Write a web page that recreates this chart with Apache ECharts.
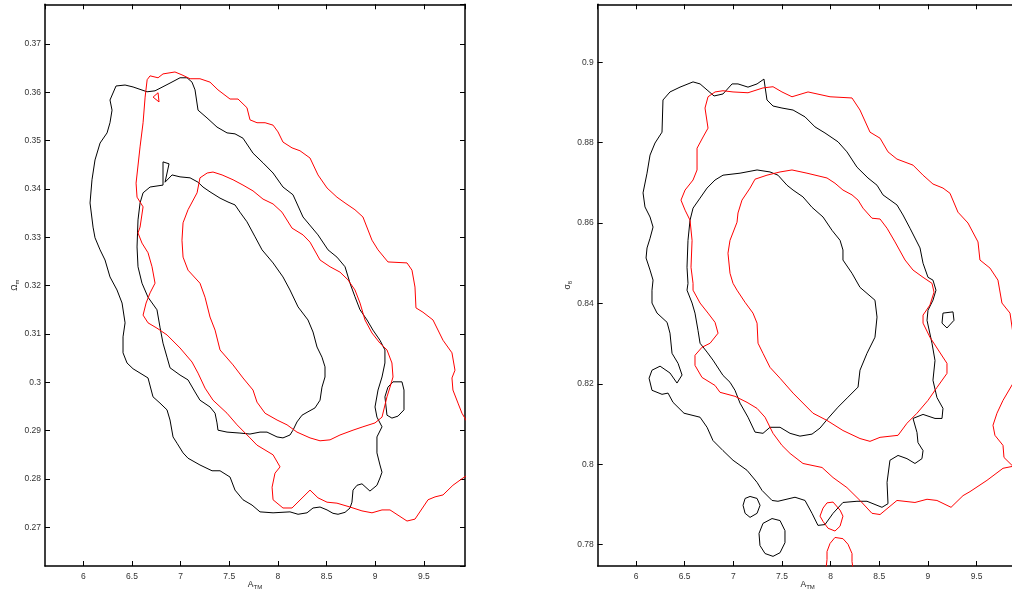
<!DOCTYPE html>
<html><head><meta charset="utf-8">
<script src="https://cdn.jsdelivr.net/npm/echarts@6/dist/echarts.min.js"></script>
<style>html,body{margin:0;padding:0;background:#fff}#c{width:1012px;height:592px}</style>
</head><body><div id="c"></div>
<script>
// Axis ranges
const xRange = [5.606, 9.923];
const omegaRange = [0.262, 0.3782];
const sigmaRange = [0.7747, 0.9144];
const xStep = 0.5, omegaStep = 0.01, sigmaStep = 0.02;

// ---- Left panel (A_TM vs Omega_m) ----
const leftBlackOuter = [[6.274,0.3584],[6.336,0.3613],[6.429,0.3615],[6.511,0.3611],[6.655,0.3601],[6.737,0.3603],[6.891,0.3619],[6.994,0.3630],[7.066,0.3630],[7.117,0.3621],[7.148,0.3605],[7.179,0.3563],[7.271,0.3547],[7.374,0.3528],[7.477,0.3516],[7.559,0.3514],[7.641,0.3505],[7.744,0.3474],[7.847,0.3454],[7.950,0.3433],[8.052,0.3404],[8.155,0.3388],[8.258,0.3342],[8.412,0.3305],[8.515,0.3274],[8.607,0.3259],[8.690,0.3239],[8.741,0.3205],[8.792,0.3177],[8.844,0.3150],[8.916,0.3129],[8.977,0.3108],[9.049,0.3087],[9.100,0.3067],[9.100,0.3040],[9.070,0.3011],[9.029,0.2984],[8.998,0.2949],[9.018,0.2928],[9.070,0.2908],[9.018,0.2887],[9.018,0.2854],[9.049,0.2829],[9.070,0.2814],[9.049,0.2802],[9.018,0.2787],[8.946,0.2775],[8.864,0.2790],[8.813,0.2787],[8.772,0.2777],[8.761,0.2752],[8.741,0.2740],[8.690,0.2731],[8.618,0.2727],[8.566,0.2729],[8.505,0.2736],[8.433,0.2742],[8.361,0.2740],[8.299,0.2730],[8.207,0.2727],[8.124,0.2732],[7.950,0.2730],[7.816,0.2732],[7.734,0.2746],[7.641,0.2757],[7.559,0.2777],[7.508,0.2804],[7.405,0.2817],[7.323,0.2817],[7.199,0.2829],[7.076,0.2843],[7.025,0.2854],[6.963,0.2874],[6.922,0.2887],[6.891,0.2922],[6.860,0.2943],[6.788,0.2957],[6.716,0.2970],[6.665,0.3009],[6.511,0.3028],[6.449,0.3040],[6.408,0.3061],[6.408,0.3094],[6.429,0.3123],[6.398,0.3164],[6.346,0.3191],[6.274,0.3218],[6.223,0.3253],[6.172,0.3274],[6.120,0.3299],[6.100,0.3321],[6.069,0.3371],[6.089,0.3419],[6.120,0.3460],[6.172,0.3495],[6.244,0.3516],[6.274,0.3537],[6.295,0.3563],[6.274,0.3584]];

const leftBlackInner = [[6.912,0.3429],[6.994,0.3425],[7.097,0.3423],[7.179,0.3414],[7.230,0.3404],[7.302,0.3394],[7.405,0.3381],[7.487,0.3373],[7.559,0.3367],[7.610,0.3352],[7.682,0.3332],[7.765,0.3301],[7.837,0.3274],[7.950,0.3247],[8.052,0.3218],[8.124,0.3191],[8.207,0.3156],[8.309,0.3129],[8.361,0.3104],[8.402,0.3073],[8.453,0.3052],[8.484,0.3032],[8.484,0.3011],[8.453,0.2990],[8.433,0.2963],[8.381,0.2947],[8.309,0.2939],[8.248,0.2932],[8.196,0.2918],[8.155,0.2901],[8.124,0.2891],[8.052,0.2885],[7.991,0.2887],[7.888,0.2897],[7.816,0.2897],[7.713,0.2893],[7.610,0.2895],[7.477,0.2897],[7.384,0.2901],[7.374,0.2916],[7.354,0.2936],[7.302,0.2949],[7.199,0.2963],[7.148,0.2980],[7.076,0.3005],[6.994,0.3015],[6.891,0.3030],[6.860,0.3052],[6.819,0.3081],[6.788,0.3114],[6.757,0.3150],[6.665,0.3176],[6.603,0.3205],[6.562,0.3239],[6.552,0.3280],[6.562,0.3336],[6.583,0.3371],[6.614,0.3392],[6.686,0.3404],[6.819,0.3408],[6.819,0.3456],[6.881,0.3452],[6.840,0.3414],[6.912,0.3429]];

const leftRedOuter = [[6.656,0.3626],[6.686,0.3634],[6.768,0.3630],[6.819,0.3638],[6.942,0.3642],[7.014,0.3636],[7.097,0.3628],[7.199,0.3628],[7.302,0.3621],[7.384,0.3605],[7.508,0.3586],[7.590,0.3586],[7.682,0.3568],[7.713,0.3543],[7.785,0.3537],[7.868,0.3537],[7.950,0.3532],[8.001,0.3518],[8.052,0.3497],[8.145,0.3485],[8.227,0.3479],[8.330,0.3464],[8.412,0.3429],[8.505,0.3402],[8.607,0.3383],[8.690,0.3371],[8.792,0.3357],[8.874,0.3342],[8.967,0.3294],[9.029,0.3274],[9.131,0.3249],[9.327,0.3247],[9.378,0.3232],[9.409,0.3197],[9.419,0.3154],[9.491,0.3145],[9.594,0.3129],[9.697,0.3087],[9.789,0.3061],[9.820,0.3025],[9.789,0.3009],[9.799,0.2984],[9.851,0.2957],[9.892,0.2936],[9.933,0.2922],[10.03,0.2881],[10.03,0.2819],[9.902,0.2802],[9.799,0.2787],[9.697,0.2767],[9.615,0.2763],[9.543,0.2757],[9.409,0.2717],[9.327,0.2713],[9.152,0.2736],[9.070,0.2736],[8.967,0.2730],[8.864,0.2734],[8.741,0.2742],[8.607,0.2750],[8.505,0.2752],[8.412,0.2761],[8.330,0.2777],[8.145,0.2740],[8.052,0.2740],[7.950,0.2757],[7.940,0.2783],[7.970,0.2812],[8.022,0.2825],[7.950,0.2850],[7.785,0.2870],[7.713,0.2885],[7.580,0.2912],[7.477,0.2936],[7.333,0.2963],[7.251,0.2988],[7.179,0.3019],[7.117,0.3042],[6.994,0.3071],[6.860,0.3098],[6.757,0.3112],[6.665,0.3123],[6.614,0.3139],[6.645,0.3164],[6.686,0.3185],[6.737,0.3205],[6.706,0.3239],[6.665,0.3268],[6.603,0.3288],[6.562,0.3309],[6.583,0.3321],[6.614,0.3363],[6.552,0.3383],[6.542,0.3412],[6.583,0.3487],[6.614,0.3537],[6.635,0.3590],[6.656,0.3626]];

const leftRedInner = [[7.273,0.3433],[7.333,0.3435],[7.426,0.3429],[7.539,0.3419],[7.641,0.3408],[7.744,0.3396],[7.847,0.3379],[7.950,0.3369],[8.042,0.3352],[8.145,0.3319],[8.258,0.3305],[8.330,0.3290],[8.433,0.3253],[8.536,0.3239],[8.638,0.3228],[8.720,0.3212],[8.792,0.3191],[8.844,0.3164],[8.895,0.3129],[8.967,0.3102],[9.049,0.3081],[9.121,0.3067],[9.172,0.3040],[9.183,0.3011],[9.152,0.2990],[9.121,0.2970],[9.070,0.2928],[8.998,0.2916],[8.874,0.2908],[8.772,0.2901],[8.638,0.2891],[8.536,0.2881],[8.433,0.2879],[8.330,0.2885],[8.196,0.2897],[8.094,0.2912],[7.991,0.2922],[7.868,0.2936],[7.785,0.2959],[7.744,0.2984],[7.641,0.3009],[7.539,0.3036],[7.405,0.3067],[7.354,0.3108],[7.302,0.3135],[7.251,0.3176],[7.199,0.3205],[7.076,0.3232],[7.025,0.3259],[7.014,0.3294],[7.025,0.3330],[7.076,0.3357],[7.169,0.3392],[7.199,0.3423],[7.273,0.3433]];

const leftRedIsland = [[6.717,0.3590],[6.768,0.3599],[6.778,0.3580],[6.717,0.3590]];
const leftBlackIsland = [[9.183,0.3001],[9.275,0.3001],[9.296,0.2984],[9.296,0.2943],[9.234,0.2930],[9.172,0.2926],[9.121,0.2932],[9.100,0.2970],[9.131,0.2990],[9.183,0.3001]];

// ---- Right panel (A_TM vs sigma_8) ----
const rightBlackOuter = [[6.277,0.8906],[6.349,0.8926],[6.452,0.8938],[6.586,0.8951],[6.658,0.8946],[6.730,0.8931],[6.802,0.8916],[6.894,0.8921],[6.987,0.8946],[7.048,0.8946],[7.151,0.8938],[7.244,0.8946],[7.315,0.8958],[7.346,0.8906],[7.408,0.8891],[7.500,0.8886],[7.614,0.8881],[7.737,0.8864],[7.840,0.8839],[7.942,0.8824],[8.076,0.8802],[8.168,0.8777],[8.271,0.8739],[8.384,0.8712],[8.477,0.8694],[8.538,0.8670],[8.682,0.8645],[8.744,0.8620],[8.816,0.8587],[8.919,0.8538],[8.950,0.8500],[9.001,0.8465],[9.052,0.8458],[9.083,0.8433],[9.052,0.8408],[9.001,0.8383],[8.991,0.8358],[9.042,0.8301],[9.073,0.8258],[9.052,0.8209],[9.093,0.8166],[9.155,0.8139],[9.145,0.8114],[9.073,0.8114],[8.950,0.8124],[8.847,0.8114],[8.888,0.8079],[8.898,0.8054],[8.950,0.8034],[8.939,0.8014],[8.867,0.8002],[8.785,0.8014],[8.693,0.8022],[8.610,0.8010],[8.580,0.7955],[8.590,0.7902],[8.528,0.7893],[8.374,0.7908],[8.271,0.7908],[8.127,0.7905],[8.025,0.7878],[7.942,0.7850],[7.870,0.7848],[7.809,0.7878],[7.737,0.7910],[7.634,0.7918],[7.459,0.7908],[7.398,0.7910],[7.295,0.7935],[7.244,0.7955],[7.141,0.7985],[6.997,0.8010],[6.894,0.8034],[6.791,0.8059],[6.730,0.8092],[6.658,0.8117],[6.493,0.8127],[6.380,0.8154],[6.329,0.8177],[6.267,0.8174],[6.164,0.8184],[6.134,0.8214],[6.164,0.8234],[6.247,0.8244],[6.349,0.8227],[6.421,0.8202],[6.473,0.8222],[6.432,0.8251],[6.370,0.8276],[6.349,0.8326],[6.319,0.8353],[6.216,0.8376],[6.164,0.8401],[6.164,0.8433],[6.175,0.8458],[6.144,0.8483],[6.103,0.8513],[6.113,0.8538],[6.144,0.8562],[6.175,0.8590],[6.144,0.8615],[6.092,0.8640],[6.072,0.8675],[6.113,0.8724],[6.144,0.8769],[6.195,0.8799],[6.267,0.8826],[6.277,0.8906]];

const rightBlackInner = [[6.812,0.8707],[6.894,0.8719],[7.069,0.8724],[7.244,0.8732],[7.377,0.8727],[7.459,0.8719],[7.552,0.8694],[7.614,0.8682],[7.716,0.8665],[7.809,0.8639],[7.922,0.8615],[8.014,0.8582],[8.097,0.8557],[8.127,0.8533],[8.127,0.8508],[8.220,0.8475],[8.302,0.8440],[8.456,0.8408],[8.477,0.8366],[8.456,0.8316],[8.374,0.8276],[8.302,0.8234],[8.282,0.8192],[8.179,0.8167],[8.076,0.8142],[7.973,0.8114],[7.891,0.8090],[7.809,0.8075],[7.685,0.8070],[7.583,0.8077],[7.480,0.8092],[7.377,0.8092],[7.305,0.8077],[7.223,0.8080],[7.151,0.8117],[7.069,0.8152],[7.017,0.8184],[6.966,0.8204],[6.894,0.8221],[6.791,0.8259],[6.730,0.8279],[6.658,0.8301],[6.637,0.8333],[6.606,0.8376],[6.576,0.8401],[6.524,0.8433],[6.534,0.8450],[6.524,0.8490],[6.534,0.8557],[6.555,0.8607],[6.586,0.8637],[6.658,0.8662],[6.730,0.8687],[6.812,0.8707]];

const rightRedOuter = [[6.740,0.8914],[6.812,0.8926],[6.894,0.8929],[6.997,0.8926],[7.151,0.8924],[7.305,0.8936],[7.408,0.8939],[7.500,0.8926],[7.603,0.8914],[7.768,0.8926],[7.994,0.8914],[8.220,0.8911],[8.302,0.8881],[8.405,0.8826],[8.508,0.8811],[8.590,0.8777],[8.682,0.8759],[8.847,0.8744],[8.950,0.8719],[9.052,0.8697],[9.155,0.8687],[9.227,0.8674],[9.309,0.8627],[9.412,0.8600],[9.515,0.8553],[9.535,0.8508],[9.638,0.8488],[9.720,0.8458],[9.761,0.8401],[9.844,0.8376],[9.874,0.8326],[9.916,0.8271],[9.874,0.8201],[9.772,0.8159],[9.710,0.8127],[9.669,0.8097],[9.689,0.8072],[9.772,0.8047],[9.782,0.8017],[9.874,0.7995],[9.772,0.7990],[9.607,0.7960],[9.433,0.7932],[9.361,0.7922],[9.238,0.7893],[9.093,0.7910],[8.991,0.7913],[8.867,0.7905],[8.682,0.7910],[8.508,0.7875],[8.425,0.7878],[8.302,0.7910],[8.168,0.7942],[8.025,0.7967],[7.912,0.7992],[7.716,0.8002],[7.583,0.8027],[7.500,0.8047],[7.408,0.8077],[7.326,0.8117],[7.244,0.8139],[7.141,0.8154],[7.017,0.8169],[6.863,0.8179],[6.812,0.8196],[6.678,0.8216],[6.606,0.8246],[6.606,0.8271],[6.678,0.8291],[6.761,0.8301],[6.843,0.8326],[6.812,0.8353],[6.740,0.8376],[6.658,0.8401],[6.586,0.8433],[6.586,0.8450],[6.565,0.8490],[6.576,0.8557],[6.555,0.8607],[6.504,0.8632],[6.462,0.8657],[6.504,0.8682],[6.586,0.8707],[6.627,0.8732],[6.627,0.8786],[6.689,0.8814],[6.740,0.8836],[6.709,0.8886],[6.740,0.8914]];

const rightRedInner = [[7.223,0.8709],[7.346,0.8719],[7.480,0.8727],[7.603,0.8732],[7.757,0.8724],[7.963,0.8712],[8.045,0.8699],[8.127,0.8682],[8.220,0.8670],[8.282,0.8657],[8.333,0.8637],[8.425,0.8612],[8.508,0.8610],[8.580,0.8587],[8.662,0.8553],[8.765,0.8508],[8.847,0.8483],[8.950,0.8465],[9.042,0.8450],[9.063,0.8428],[9.021,0.8396],[8.950,0.8371],[8.950,0.8351],[9.021,0.8316],[9.196,0.8251],[9.196,0.8226],[9.093,0.8191],[9.001,0.8159],[8.888,0.8127],[8.785,0.8102],[8.693,0.8072],[8.508,0.8067],[8.405,0.8057],[8.302,0.8064],[8.127,0.8084],[7.963,0.8109],[7.819,0.8127],[7.614,0.8177],[7.480,0.8214],[7.377,0.8241],[7.305,0.8276],[7.254,0.8301],[7.244,0.8351],[7.202,0.8376],[7.120,0.8403],[7.038,0.8433],[6.997,0.8450],[6.966,0.8475],[6.945,0.8525],[6.966,0.8557],[7.038,0.8602],[7.048,0.8625],[7.089,0.8657],[7.172,0.8687],[7.223,0.8709]];

const rightBlackIslandA = [[9.155,0.8376],[9.258,0.8379],[9.268,0.8358],[9.196,0.8339],[9.145,0.8351],[9.155,0.8376]];
const rightBlackIslandB = [[7.121,0.7915],[7.172,0.7920],[7.244,0.7915],[7.275,0.7898],[7.244,0.7878],[7.172,0.7868],[7.121,0.7878],[7.100,0.7898],[7.121,0.7915]];
const rightBlackIslandC = [[7.398,0.7865],[7.480,0.7860],[7.531,0.7835],[7.531,0.7805],[7.480,0.7780],[7.408,0.7771],[7.326,0.7778],[7.274,0.7798],[7.264,0.7828],[7.305,0.7853],[7.398,0.7865]];
const rightRedIslandA = [[7.963,0.7904],[8.025,0.7906],[8.097,0.7886],[8.127,0.7871],[8.097,0.7846],[8.045,0.7834],[7.973,0.7841],[7.922,0.7858],[7.891,0.7871],[7.922,0.7891],[7.963,0.7904]];
const rightRedIslandB = [[7.953,0.7741],[7.963,0.7763],[7.963,0.7783],[7.994,0.7803],[8.045,0.7818],[8.127,0.7815],[8.179,0.7801],[8.220,0.7778],[8.220,0.7758],[8.230,0.7741]];

const BLACK = '#000000', RED = '#ff0000';
const FONT = 'Liberation Sans, Arial, Helvetica, sans-serif';

function fmtStep(step) {
  return function (v) {
    const k = v / step;
    if (Math.abs(k - Math.round(k)) > 1e-6) return '';
    return String(+(Math.round(k) * step).toFixed(4));
  };
}
const richName = {
  a: { fontSize: 8.5, lineHeight: 10, verticalAlign: 'top', color: '#222', fontFamily: FONT },
  s: { fontSize: 6, lineHeight: 8, padding: [4, 0, 0, 0], verticalAlign: 'top', color: '#222', fontFamily: FONT }
};
function axis(grid, pos, range, step, split, showLabels, name, gap, margin, noMove) {
  return {
    type: 'value', gridIndex: grid, position: pos,
    min: range[0], max: range[1], splitNumber: split,
    name: name || '', nameLocation: 'middle', nameGap: gap || 0,
    nameMoveOverlap: !noMove,
    nameTextStyle: { rich: richName },
    axisLine: { show: true, onZero: false, lineStyle: { color: '#000', width: 1.5 } },
    axisTick: { show: true, inside: true, length: 5, lineStyle: { color: '#000', width: 1 } },
    axisLabel: { show: showLabels, fontSize: 8.5, color: '#333', fontFamily: FONT, margin: margin || 4,
      showMinLabel: false, showMaxLabel: false, formatter: fmtStep(step) },
    splitLine: { show: false }
  };
}
function line(data, color, xi, yi) {
  return { type: 'line', data: data, xAxisIndex: xi, yAxisIndex: yi, symbol: 'none', showSymbol: false,
    lineStyle: { color: color, width: 1 }, itemStyle: { color: color }, clip: true, silent: true, animation: false };
}

const chart = echarts.init(document.getElementById('c'), null, { renderer: 'canvas' });
chart.setOption({
  animation: false,
  backgroundColor: '#fff',
  grid: [
    { left: 45, top: 4.3, width: 420, height: 561.7, containLabel: false, outerBoundsMode: 'none' },
    { left: 597.7, top: 4.3, width: 420, height: 561.7, containLabel: false, outerBoundsMode: 'none' }
  ],
  xAxis: [
    axis(0, 'bottom', xRange, xStep, 8, true, '{a|A}{s|TM}', 14, 6, true),
    axis(0, 'top', xRange, xStep, 8, false),
    axis(1, 'bottom', xRange, xStep, 8, true, '{a|A}{s|TM}', 14, 6, true),
    axis(1, 'top', xRange, xStep, 8, false)
  ],
  yAxis: [
    axis(0, 'left', omegaRange, omegaStep, 11, true, '{a|Ω}{s|m}', 25, 4),
    axis(0, 'right', omegaRange, omegaStep, 11, false),
    axis(1, 'left', sigmaRange, sigmaStep, 7, true, '{a|σ}{s|8}', 24, 4),
    axis(1, 'right', sigmaRange, sigmaStep, 7, false)
  ],
  series: [
    line(leftBlackOuter, BLACK, 0, 0),
    line(leftBlackInner, BLACK, 0, 0),
    line(leftBlackIsland, BLACK, 0, 0),
    line(leftRedOuter, RED, 0, 0),
    line(leftRedInner, RED, 0, 0),
    line(leftRedIsland, RED, 0, 0),
    line(rightBlackOuter, BLACK, 2, 2),
    line(rightBlackInner, BLACK, 2, 2),
    line(rightBlackIslandA, BLACK, 2, 2),
    line(rightBlackIslandB, BLACK, 2, 2),
    line(rightBlackIslandC, BLACK, 2, 2),
    line(rightRedOuter, RED, 2, 2),
    line(rightRedInner, RED, 2, 2),
    line(rightRedIslandA, RED, 2, 2),
    line(rightRedIslandB, RED, 2, 2)
  ]
});
</script></body></html>
